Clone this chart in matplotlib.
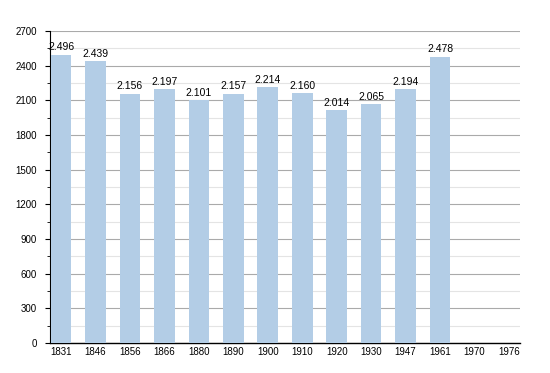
import matplotlib
matplotlib.use("Agg")
import matplotlib.pyplot as plt
from matplotlib.ticker import MultipleLocator

years = ["1831", "1846", "1856", "1866", "1880", "1890", "1900", "1910", "1920", "1930", "1947", "1961", "1970", "1976"]
population = [2496, 2439, 2156, 2197, 2101, 2157, 2214, 2160, 2014, 2065, 2194, 2478, None, None]
labels = ["2.496", "2.439", "2.156", "2.197", "2.101", "2.157", "2.214", "2.160", "2.014", "2.065", "2.194", "2.478", "", ""]

fig = plt.figure(figsize=(5.5, 3.73), dpi=100)
ax = fig.add_axes([50/550, 1 - 343/373, (520-50)/550, (343-31)/373])

xs = list(range(len(years)))
vals = [v if v is not None else 0 for v in population]
ax.bar(xs, vals, width=0.6, color="#b3cde6", zorder=3)
for x, v, lab in zip(xs, vals, labels):
    if lab:
        ax.text(x, v + 22, lab, ha="center", va="bottom", fontsize=7.5, family="Liberation Sans", zorder=4)

ax.set_xlim(-0.32, len(years) - 1 + 0.32)
ax.set_ylim(0, 2700)
ax.yaxis.set_major_locator(MultipleLocator(300))
ax.yaxis.set_minor_locator(MultipleLocator(150))
ax.grid(axis="y", which="major", color="#aaaaaa", linewidth=0.8, zorder=0)
ax.grid(axis="y", which="minor", color="#e4e4e4", linewidth=0.8, zorder=0)
ax.set_xticks(xs)
ax.set_xticklabels(years)
ax.tick_params(axis="x", length=0, pad=3, labelsize=7)
ax.tick_params(axis="y", which="major", length=3.6, labelsize=7, pad=6)
ax.tick_params(axis="y", which="minor", length=2)
for lab in ax.get_xticklabels() + ax.get_yticklabels():
    lab.set_family("Liberation Sans")
for s in ["top", "right"]:
    ax.spines[s].set_visible(False)
ax.spines["left"].set_linewidth(0.8)
ax.spines["bottom"].set_linewidth(1.0)

fig.savefig("out.png", dpi=100)
